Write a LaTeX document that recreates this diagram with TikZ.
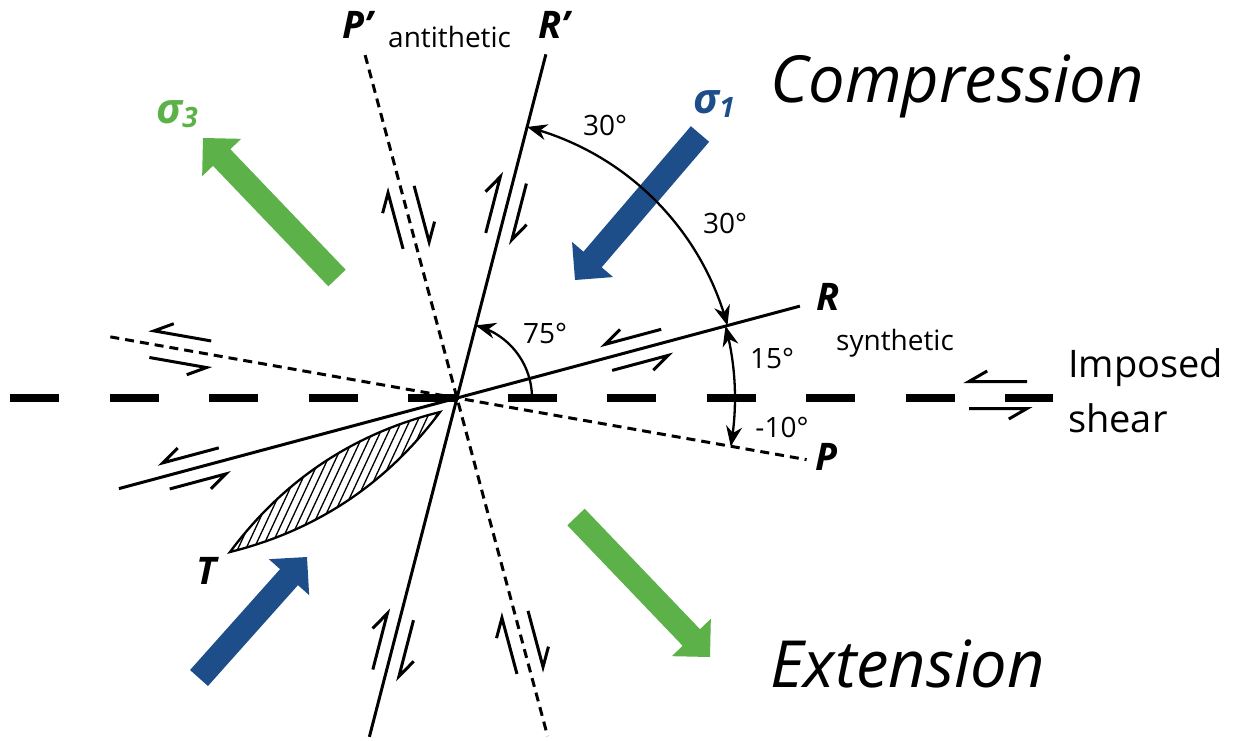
\documentclass[tikz,border=0pt]{standalone}
\usepackage{fontspec}
\setmainfont{Open Sans}
\usetikzlibrary{arrows.meta,calc}
\definecolor{sigblue}{RGB}{29,78,137}
\definecolor{siggreen}{RGB}{92,178,72}
\tikzset{
  fault/.style={line width=3pt},
  dfault/.style={line width=3pt, dash pattern=on 9pt off 6pt},
  shearaxis/.style={line width=8pt, dash pattern=on 49pt off 50.5pt},
  halfarrow/.style={line width=3pt, line join=miter},
  arcone/.style={line width=2.3pt, -{Stealth[length=20pt,width=16pt]}},
  arcboth/.style={line width=2.3pt, {Stealth[length=20pt,width=16pt]}-{Stealth[length=20pt,width=16pt]}},
  lensline/.style={line width=2.3pt},
  hatchline/.style={line width=1.3pt},
  lbl/.style={inner sep=0pt, font=\fontsize{28}{30}\selectfont},
  letter/.style={inner sep=0pt, font=\fontsize{38}{40}\selectfont\bfseries\itshape},
  big/.style={inner sep=0pt, anchor=base west, font=\fontsize{65}{70}\selectfont\itshape},
  side/.style={inner sep=0pt, anchor=base west, font=\fontsize{38}{40}\selectfont},
  sig/.style={inner sep=0pt, font=\fontsize{42}{44}\selectfont\bfseries\itshape},
}
\newcommand\shearpair[3]{%
  \begin{scope}[shift={(#1)}, rotate=#2, yscale=#3]
    \draw[halfarrow] (29pt,13.5pt) -- (-29pt,13.5pt) -- ++(30:21pt);
    \draw[halfarrow] (-29pt,-13.5pt) -- (29pt,-13.5pt) -- ++(210:21pt);
  \end{scope}}
\newcommand\fatarrow[3]{%
  \coordinate (fa-b) at ($(#3)!27pt!(#2)$);
  \fill[#1] ($(#2)!12pt!90:(#3)$) -- ($(fa-b)!12pt!90:(#3)$) -- ($(fa-b)!27pt!90:(#3)$) -- (#3)
    -- ($(fa-b)!27pt!-90:(#3)$) -- ($(fa-b)!12pt!-90:(#3)$) -- ($(#2)!12pt!-90:(#3)$) -- cycle;}
\begin{document}
\begin{tikzpicture}[x=1pt,y=-1pt]
\useasboundingbox (0,0) rectangle (1234,740);
\fill[white] (0,0) rectangle (1234,740);
\coordinate (O) at (457,398);
% fault end points (visual angle a -> polar -a)
\coordinate (Rend) at ($(O)+(-15:355)$);
\coordinate (Rbeg) at ($(O)+(-195:350)$);
\coordinate (Rpend) at ($(O)+(-75.5:355)$);
\coordinate (Rpbeg) at ($(O)+(-255.5:350)$);
\coordinate (Pend) at ($(O)+(10:355)$);
\coordinate (Pbeg) at ($(O)+(-170:352)$);
\coordinate (Ppend) at ($(O)+(-105:355)$);
\coordinate (Ppbeg) at ($(O)+(-285:350)$);
\coordinate (HL) at (10,398);
\coordinate (HR) at (1053,398);
% lens T
\coordinate (LA) at (230,552);
\coordinate (LB) at (440,412);
\begin{scope}
  \clip (LA) .. controls (283.3,480.3) and (353.3,433.6) .. (LB) .. controls (386.7,483.6) and (316.7,530.3) .. (LA) -- cycle;
  \foreach \x in {140,148,...,460} \draw[hatchline] (\x,570) -- ++(85,-182);
\end{scope}
\draw[lensline] (LA) .. controls (283.3,480.3) and (353.3,433.6) .. (LB) .. controls (386.7,483.6) and (316.7,530.3) .. (LA) -- cycle;
% imposed shear axis
\draw[shearaxis] (HL) -- (HR);
% faults
\draw[fault] (Rbeg) -- (Rend);
\draw[fault] (Rpbeg) -- (Rpend);
\draw[dfault] (Pbeg) -- (Pend);
\draw[dfault] (Ppend) -- (Ppbeg);
% big stress arrows
\coordinate (s1tail) at (700,134);  \coordinate (s1tip) at (575,280);
\coordinate (s1btail) at (199,678); \coordinate (s1btip) at (307,557);
\coordinate (s3tail) at (337,278);  \coordinate (s3tip) at (203,138);
\coordinate (s3btail) at (576,517); \coordinate (s3btip) at (710,657);
\fatarrow{sigblue}{s1tail}{s1tip}
\fatarrow{sigblue}{s1btail}{s1btip}
\fatarrow{siggreen}{s3tail}{s3tip}
\fatarrow{siggreen}{s3btail}{s3btip}
% angle arcs
\begin{scope}[shift={(O)}]
\draw[arcboth] plot[domain=-75.5:-15, samples=60, variable=\t] (\t:280);
\draw[arcone] plot[domain=0:-15, samples=30, variable=\t] (\t:278);
\draw[arcone] plot[domain=0:10, samples=30, variable=\t] (\t:278);
\draw[arcone] plot[domain=0:-75.5, samples=50, variable=\t] (\t:75);
\end{scope}
% shear-sense half arrows
\coordinate (hR1) at ($(O)+(-15:186)$);
\coordinate (hR2) at ($(O)+(-195:272)$);
\coordinate (hP1) at ($(O)+(-170:281)$);
\coordinate (hRp1) at ($(O)+(-75.5:196)$);
\coordinate (hRp2) at ($(O)+(-255.5:255)$);
\coordinate (hPp1) at ($(O)+(-105:187)$);
\coordinate (hPp2) at ($(O)+(-285:253)$);
\coordinate (hS) at (998,395);
\shearpair{hR1}{15}{1}
\shearpair{hR2}{15}{1}
\shearpair{hP1}{-10}{1}
\shearpair{hRp1}{75.5}{-1}
\shearpair{hRp2}{75.5}{-1}
\shearpair{hPp1}{105}{-1}
\shearpair{hPp2}{105}{-1}
\shearpair{hS}{0}{1}
% labels
\node[letter, anchor=base west] (Pp) at (342,38) {P’};
\node[lbl, anchor=base west] (anti) at (388,47) {antithetic};
\node[letter, anchor=base west] (Rp) at (538,38) {R’};
\node[big] (comp) at (770,102) {Compression};
\node[big] (ext) at (770,687) {Extension};
\node[sig, text=sigblue] (s1) at (714,104) {σ\raisebox{-4pt}{\fontsize{28}{28}\selectfont 1}};
\node[sig, text=siggreen] (s3) at (177,114) {σ\raisebox{-4pt}{\fontsize{28}{28}\selectfont 3}};
\node[lbl] (a30a) at (605,125) {30°};
\node[lbl] (a30b) at (725,223) {30°};
\node[letter] (Rl) at (828,297) {R};
\node[lbl] (syn) at (895,343) {synthetic};
\node[lbl] (a75) at (545,333) {75°};
\node[lbl] (a15) at (772,358) {15°};
\node[lbl] (a10) at (782,427) {-10°};
\node[letter] (Pl) at (827,457) {P};
\node[side] (imp) at (1068,377) {Imposed};
\node[side] (shr) at (1068,432) {shear};
\node[letter] (Tl) at (207,571) {T};
\end{tikzpicture}
\end{document}
